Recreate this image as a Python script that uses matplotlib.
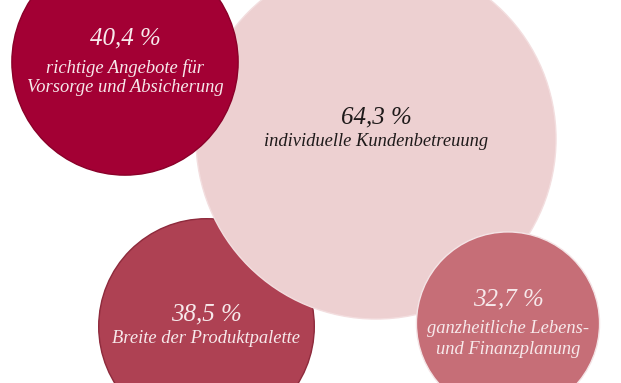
import matplotlib.pyplot as plt
from matplotlib.patches import Circle

# ========= DATOS ==========
werte = [38.5, 64.3, 40.4, 32.7]
etiketten = ["38,5 %", "64,3 %", "40,4 %", "32,7 %"]
beschreibungen = [
    ["Breite der Produktpalette"],
    ["individuelle Kundenbetreuung"],
    ["richtige Angebote für", "Vorsorge und Absicherung"],
    ["ganzheitliche Lebens-", "und Finanzplanung"],
]
# ==========================

# Layout (Pixel, Zeichenreihenfolge)
zentren = [(206.5, 326.5), (376, 139), (125, 62), (508, 323.5)]
farben = ["#AE4153", "#EDD0D1", "#A30034", "#C66E77"]
randfarben = ["#8E2A3C", "#F3DEDF", "#8A0029", "#F4E4E6"]
textfarben = ["#F7E9EB", "#1E1A1A", "#F7E9EB", "#F7E9EB"]
# (Abstand Prozentzahl, Abstand erste Zeile, Zeilenabstand)
text_offset = [(-12, 12, 20), (-22, 3, 20), (-24, 6, 20), (-24, 5, 21)]
PX_PRO_PROZENT = 2.8

fig = plt.figure(figsize=(6.21, 3.83), dpi=100)
ax = fig.add_axes([0, 0, 1, 1])
ax.set_xlim(0, 621)
ax.set_ylim(383, 0)
ax.set_aspect("equal")
ax.axis("off")

for i, w in enumerate(werte):
    cx, cy = zentren[i]
    ax.add_patch(Circle((cx, cy), w * PX_PRO_PROZENT, facecolor=farben[i],
                        edgecolor=randfarben[i], linewidth=1.0, zorder=i + 1))
    d_pct, d_text, zeile = text_offset[i]
    ax.text(cx, cy + d_pct, etiketten[i], ha="center", va="center",
            family="Liberation Serif", style="italic", fontsize=18,
            color=textfarben[i], zorder=10)
    for k, txt in enumerate(beschreibungen[i]):
        ax.text(cx, cy + d_text + k * zeile, txt, ha="center", va="center",
                family="Liberation Serif", style="italic", fontsize=13.3,
                color=textfarben[i], zorder=10)

fig.savefig("out.png", dpi=100)
